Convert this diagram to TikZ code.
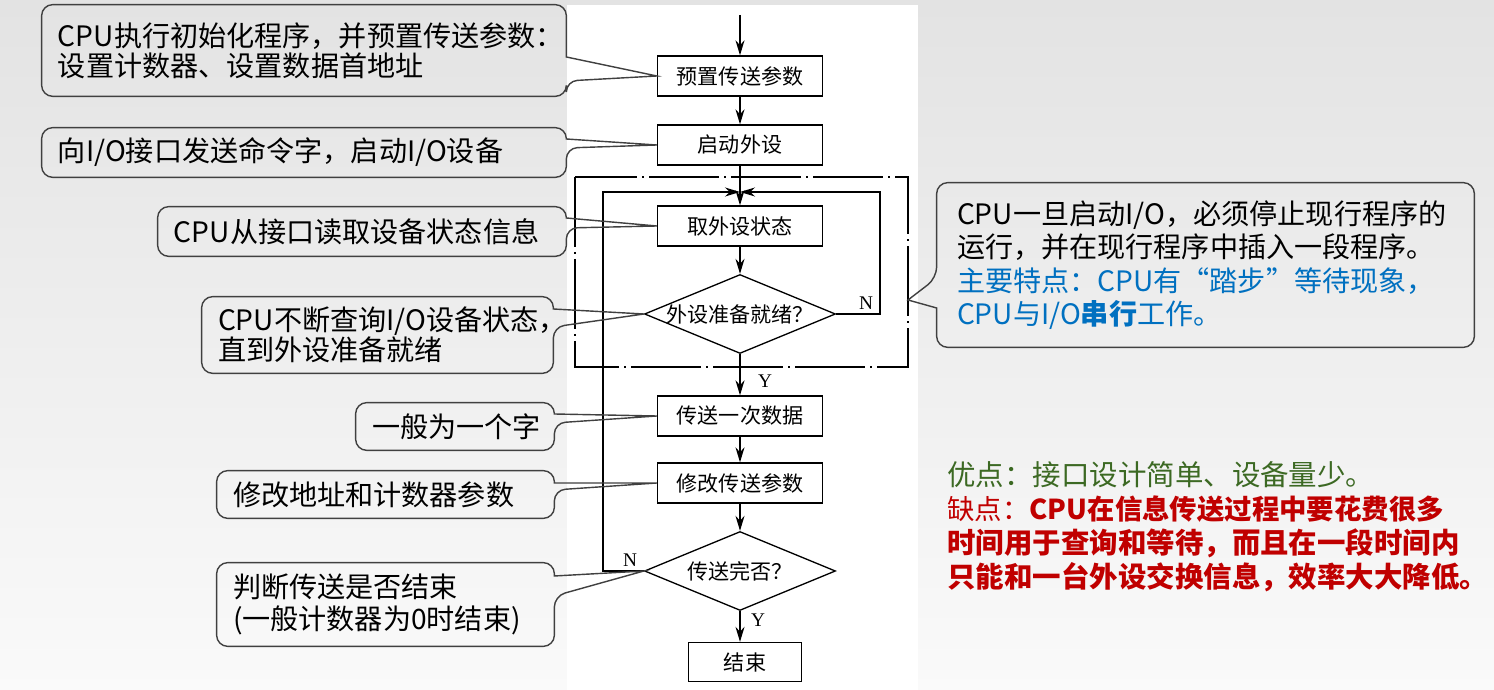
\documentclass[tikz,border=0pt]{standalone}
\usepackage{fontspec}
\setmainfont{Noto Sans CJK SC}
\newfontfamily\serifen{Liberation Serif}
\usepackage{xcolor}
\usetikzlibrary{arrows.meta,shapes.geometric,calc}
\definecolor{notegray}{RGB}{64,64,64}
\definecolor{tipblue}{RGB}{0,112,192}
\definecolor{prosgreen}{RGB}{60,105,35}
\definecolor{consred}{RGB}{192,0,0}
\tikzset{
  proc/.style={draw,line width=0.75pt,minimum width=33mm,minimum height=8mm,inner sep=0pt,font=\fontsize{12}{14}\selectfont},
  decision/.style={diamond,draw,line width=0.75pt,minimum width=38.2mm,minimum height=15.8mm,inner sep=0pt},
  arr/.style={-{Stealth[length=3mm,width=1.8mm]},line width=0.75pt},
  loopframe/.style={line width=0.75pt,dash pattern=on 14mm off 1mm on 0.4mm off 1mm},
  yn/.style={inner sep=0pt,font=\serifen\fontsize{11}{12}\selectfont},
  note/.style={rectangle,inner xsep=3.2mm,inner ysep=0pt,align=left,font=\fontsize{16}{17}\selectfont},
  notebd/.style={draw=notegray,line width=0.8pt},
}
% callout outline, pointer leaving the right side between heights #3 and #4
\newcommand{\noteright}[4]{%
  \draw[notebd] (#1.east |- 0,#3) [rounded corners=2.2mm] -- (#1.north east) -- (#1.north west)
    -- (#1.south west) -- (#1.south east) -- (#1.east |- 0,#4) [sharp corners] -- (#2) -- cycle;}
% same, pointer leaving the left side
\newcommand{\noteleft}[4]{%
  \draw[notebd] (#1.west |- 0,#4) [rounded corners=2.2mm] -- (#1.south west) -- (#1.south east)
    -- (#1.north east) -- (#1.north west) -- (#1.west |- 0,#3) [sharp corners] -- (#2) -- cycle;}

\begin{document}
\begin{tikzpicture}[x=0.2mm,y=-0.2mm]
\useasboundingbox (0,0) rectangle (1494,690);
\shade[top color=gray!22,bottom color=gray!4] (0,0) rectangle (1494,690);
\fill[white] (567,5) rectangle (918,690);

% flow chart
\node[proc] (b1) at (740,76) {预置传送参数};
\node[proc] (b2) at (740,145) {启动外设};
\node[proc] (b3) at (740,226) {取外设状态};
\node[decision,label=center:{\fontsize{12}{14}\selectfont 外设准备就绪？}] (d1) at (740,314) {};
\node[proc] (b4) at (740,416) {传送一次数据};
\node[proc] (b5) at (740,483) {修改传送参数};
\node[decision,label=center:{\fontsize{12}{14}\selectfont 传送完否？}] (d2) at (740,571) {};
\node[proc,minimum width=22.6mm,minimum height=7.8mm] (b6) at (745,662) {结束};

\coordinate (in) at (740,15);
\coordinate (jn) at (740,192);
\coordinate (rl) at (880,192);
\coordinate (ll) at (603,192);
\coordinate (ftip) at (908,300);

\draw[arr] (in) -- (b1);
\draw[arr] (b1) -- (b2);
\draw[arr] (b2) -- (b3);
\draw[arr] (b3) -- (d1);
\draw[arr] (d1) -- (b4);
\draw[arr] (b4) -- (b5);
\draw[arr] (b5) -- (d2);
\draw[arr] (d2.south) -- (d2.south |- b6.north);
\draw[arr] (d1.east) -| (rl) -- (jn);
\draw[arr] (d2.west) -| (ll) -- (jn);
\draw[loopframe] (575,177) rectangle (908,367);

\node[yn] (n1) at (866,303) {N};
\node[yn] (y1) at (765,381) {Y};
\node[yn] (n2) at (630,560) {N};
\node[yn] (y2) at (758,620) {Y};

% callouts
\node[note,text width=98.4mm,minimum height=18.2mm] (c1) at (304,50.5)
  {CPU执行初始化程序，并预置传送参数：\\设置计数器、设置数据首地址};
\node[note,text width=98.4mm,minimum height=9.8mm] (c2) at (304,152.5)
  {向I/O接口发送命令字，启动I/O设备};
\node[note,text width=75.2mm,minimum height=9.8mm] (c3) at (362,231.5)
  {CPU从接口读取设备状态信息};
\node[note,text width=63.8mm,minimum height=15.2mm] (c4) at (377.5,335)
  {CPU不断查询I/O设备状态，\\直到外设准备就绪};
\node[note,text width=33.2mm,minimum height=9.4mm] (c5) at (455,426.5)
  {一般为一个字};
\node[note,text width=61mm,minimum height=9.4mm] (c6) at (385.5,494.5)
  {修改地址和计数器参数};
\node[note,text width=61mm,minimum height=16.6mm,font=\fontsize{16}{18}\selectfont] (c7) at (385.5,604.5)
  {判断传送是否结束\\(一般计数器为0时结束)};
\node[note,inner xsep=4mm,text width=99.4mm,minimum height=32.8mm,font=\fontsize{16}{19}\selectfont] (c8) at (1205.5,265)
  {CPU一旦启动I/O，必须停止现行程序的\\运行，并在现行程序中插入一段程序。\\
   \textcolor{tipblue}{主要特点：CPU有“踏步”等待现象，}\\
   \textcolor{tipblue}{CPU与I/O\textbf{串行}工作。}};

\noteright{c1}{b1.west}{57}{81}
\noteright{c2}{b2.west}{139}{148}
\noteright{c3}{b3.west}{218}{228}
\noteright{c4}{d1.west}{309}{327}
\noteright{c5}{b4.west}{414}{423}
\noteright{c6}{b5.west}{483}{490}
\noteright{c7}{d2.west}{576}{596}
\noteleft{c8}{ftip}{278}{308}

% pros and cons
\node[anchor=north west,inner sep=0pt,align=left,font=\fontsize{16.2}{19.3}\selectfont] (pros) at (947,461)
  {\textcolor{prosgreen}{优点：接口设计简单、设备量少。}\\
   \textcolor{consred}{{\fontsize{15.6}{19.3}\selectfont 缺点：\textbf{CPU在信息传送过程中要花费很多}}}\\
   \textcolor{consred}{\textbf{时间用于查询和等待，而且在一段时间内}}\\
   \textcolor{consred}{\textbf{只能和一台外设交换信息，效率大大降低。}}};
\end{tikzpicture}
\end{document}
